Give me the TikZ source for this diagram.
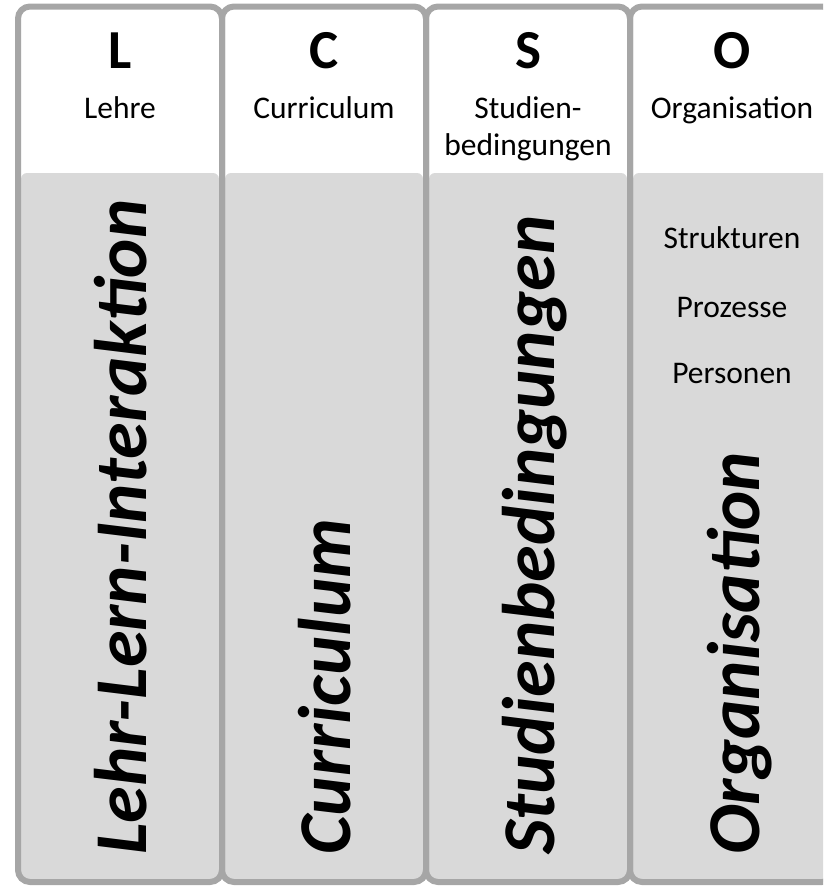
\documentclass[tikz,border=0pt]{standalone}
\usepackage{fontspec}
\setmainfont{Carlito}
\definecolor{bordergray}{HTML}{A6A6A6}
\definecolor{panelgray}{HTML}{D9D9D9}
\begin{document}
\begin{tikzpicture}[x=1pt,y=-1pt,
  letter/.style={font=\fontsize{55}{60}\selectfont\bfseries, anchor=base, inner sep=0},
  sub/.style={font=\fontsize{31.5}{37}\selectfont, anchor=base, inner sep=0},
  vert/.style={font=\fontsize{74.5}{80}\selectfont\bfseries\itshape, rotate=90, anchor=base west, inner sep=0},
  colborder/.style={draw=bordergray, line width=6pt, rounded corners=12pt}
]
\useasboundingbox (0,0) rectangle (823,886);
\clip (0,0) rectangle (823,886);
\foreach \x in {18,222,426,630} {
  \begin{scope}
    \clip[rounded corners=12pt] (\x,6.5) rectangle (\x+204,882);
    \fill[white] (\x,0) rectangle (\x+204,900);
    \fill[panelgray, rounded corners=6pt] (\x+3,173) rectangle (\x+201,930);
  \end{scope}
}
\foreach \x in {18,222,426,630} {
  \path[colborder] (\x,6.5) rectangle (\x+204,882);
}
% headers
\node[letter] (hL) at (120,68) {L};
\node[sub] (tL) at (120,118) {Lehre};
\node[letter] (hC) at (324,68) {C};
\node[sub] (tC) at (324,118) {Curriculum};
\node[letter] (hS) at (528,68) {S};
\node[sub] (tS1) at (528,118) {Studien-};
\node[sub] (tS2) at (528,155) {bedingungen};
\node[letter] (hO) at (732,68) {O};
\node[sub] (tO) at (732,118) {Organisation};
% organisation list
\node[sub] (o1) at (732,248) {Strukturen};
\node[sub] (o2) at (732,317) {Prozesse};
\node[sub] (o3) at (732,383) {Personen};
% vertical titles
\node[vert] (vL) at (146,855) {Lehr-Lern-Interaktion};
\node[vert] (vC) at (350,855) {Curriculum};
\node[vert] (vS) at (554,855) {Studienbedingungen};
\node[vert] (vO) at (759,855) {Organisation};
\end{tikzpicture}
\end{document}
